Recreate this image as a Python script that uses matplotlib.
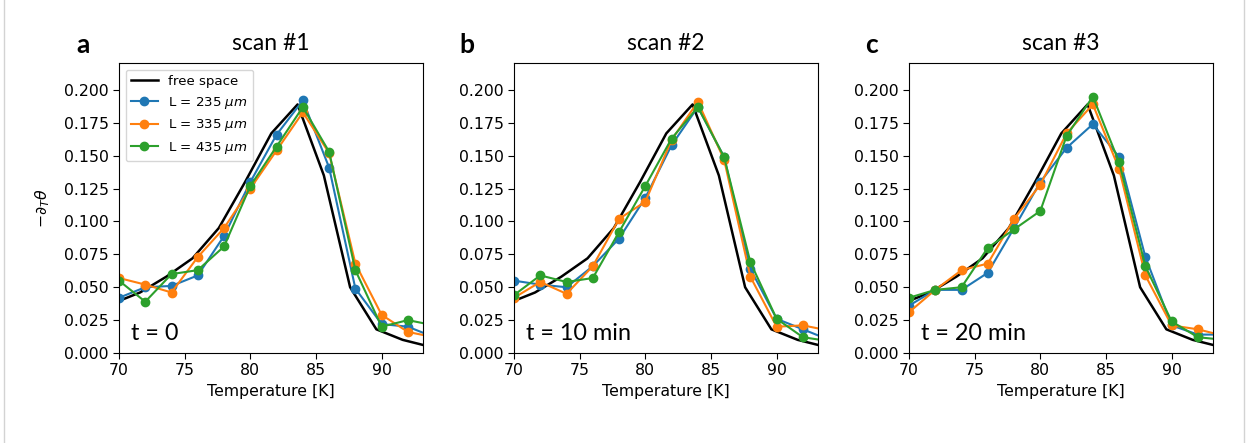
import numpy as np
import matplotlib
matplotlib.use("Agg")
import matplotlib.pyplot as plt
from matplotlib.lines import Line2D

# free-space reference curve (same in every panel)
T_free = [69.6, 71.6, 73.6, 75.6, 77.6, 79.6, 81.6, 83.6, 85.6, 87.6, 89.6, 91.6, 93.6]
free_space = [0.038, 0.046, 0.058, 0.072, 0.095, 0.130, 0.167, 0.189, 0.135, 0.050, 0.018, 0.010, 0.005]

# measured temperatures
T = [70, 72, 74, 76, 78, 80, 82, 84, 86, 88, 90, 92, 94]

# scan #1 (t = 0)
s1_235 = [0.042, 0.050, 0.051, 0.059, 0.089, 0.130, 0.166, 0.192, 0.141, 0.049, 0.022, 0.020, 0.012]
s1_335 = [0.057, 0.052, 0.046, 0.073, 0.095, 0.125, 0.154, 0.183, 0.152, 0.068, 0.029, 0.016, 0.012]
s1_435 = [0.055, 0.039, 0.060, 0.063, 0.081, 0.127, 0.157, 0.187, 0.153, 0.063, 0.020, 0.025, 0.021]

# scan #2 (t = 10 min)
s2_235 = [0.055, 0.052, 0.050, 0.066, 0.087, 0.118, 0.158, 0.187, 0.149, 0.064, 0.026, 0.018, 0.010]
s2_335 = [0.042, 0.054, 0.045, 0.066, 0.102, 0.115, 0.162, 0.191, 0.147, 0.058, 0.020, 0.021, 0.017]
s2_435 = [0.044, 0.059, 0.054, 0.057, 0.092, 0.127, 0.163, 0.187, 0.149, 0.069, 0.026, 0.012, 0.009]

# scan #3 (t = 20 min)
s3_235 = [0.036, 0.048, 0.048, 0.061, 0.095, 0.130, 0.156, 0.174, 0.149, 0.073, 0.021, 0.014, 0.014]
s3_335 = [0.031, 0.048, 0.063, 0.068, 0.102, 0.128, 0.167, 0.189, 0.140, 0.059, 0.021, 0.018, 0.013]
s3_435 = [0.042, 0.048, 0.050, 0.080, 0.094, 0.108, 0.165, 0.195, 0.145, 0.066, 0.024, 0.012, 0.010]

titles = ["scan #1", "scan #2", "scan #3"]
panel_tags = ["a", "b", "c"]
time_labels = ["t = 0", "t = 10 min", "t = 20 min"]
series_labels = ["L = 235 $\\mu m$", "L = 335 $\\mu m$", "L = 435 $\\mu m$"]
scans = [
    [s1_235, s1_335, s1_435],
    [s2_235, s2_335, s2_435],
    [s3_235, s3_335, s3_435],
]
colors = ["#1f77b4", "#ff7f0e", "#2ca02c"]

W, H = 1250, 443
fig = plt.figure(figsize=(W / 100, H / 100), dpi=100)

lefts = [119, 514, 909]
tag_x = [83, 467, 871]
for i, left in enumerate(lefts):
    ax = fig.add_axes([left / W, (H - 353) / H, 304 / W, 290 / H])
    ax.plot(T_free, free_space, color="black", linewidth=1.8, label="free space")
    for ys, lab, c in zip(scans[i], series_labels, colors):
        ax.plot(T, ys, "-o", color=c, linewidth=1.5, markersize=6, label=lab)
    ax.set_xlim(70, 93.15)
    ax.set_ylim(0, 0.2205)
    ax.set_xticks([70, 75, 80, 85, 90])
    ax.set_yticks(np.arange(0, 0.201, 0.025))
    ax.yaxis.set_major_formatter(matplotlib.ticker.FormatStrFormatter("%.3f"))
    ax.tick_params(labelsize=11.3, length=4)
    ax.set_xlabel("Temperature [K]", fontsize=11.3)
    ax.set_title(titles[i], fontsize=16.5, family="Lato", pad=9)
    ax.text(0.038, 0.045, time_labels[i], transform=ax.transAxes,
            fontsize=16.8, family="Lato", va="baseline")
    fig.text(tag_x[i] / W, (H - 45) / H, panel_tags[i], fontsize=19,
             family="Lato", fontweight="bold", ha="center", va="center")
    if i == 0:
        ax.set_ylabel(r"$-\partial_T\theta$", fontsize=11.3, labelpad=8)
        ax.legend(loc="upper left", fontsize=9.6, framealpha=0.8)

# thin frame lines at the slide edges
fig.add_artist(Line2D([4 / W, 4 / W], [0, 1], color="#d3d3d3", linewidth=1))
fig.add_artist(Line2D([1244 / W, 1244 / W], [0, 1], color="#d3d3d3", linewidth=1))

fig.savefig("out.png", dpi=100)
